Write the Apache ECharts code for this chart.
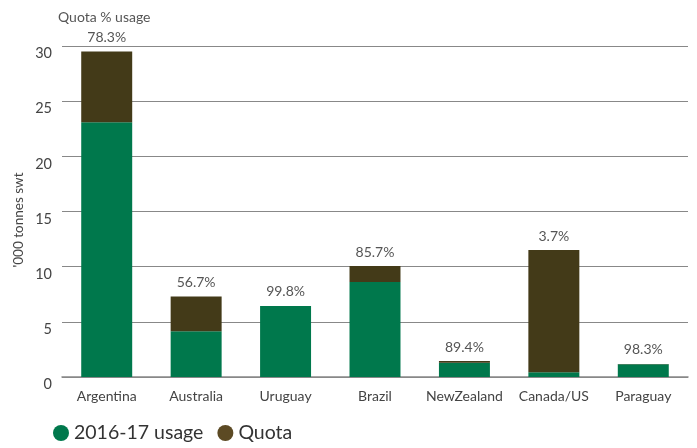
<!DOCTYPE html>
<html>
<head>
<meta charset="utf-8">
<script src="https://cdn.jsdelivr.net/npm/echarts@6/dist/echarts.min.js"></script>
<style>
  html, body { margin: 0; padding: 0; background: #fff; }
  #chart { width: 697px; height: 448px; }
</style>
</head>
<body>
<div id="chart"></div>
<script>
// Beef import quota by supplier ('000 tonnes swt)
const categories = ['Argentina', 'Australia', 'Uruguay', 'Brazil', 'NewZealand', 'Canada/US', 'Paraguay'];
const quotaTotal = [29.5, 7.3, 6.44, 10.05, 1.45, 11.5, 1.18];
const usage = [23.1, 4.14, 6.43, 8.61, 1.30, 0.43, 1.16];
const usagePct = ['78.3%', '56.7%', '99.8%', '85.7%', '89.4%', '3.7%', '98.3%'];
const yTicks = [0, 5, 10, 15, 20, 25, 30];

// the brown segment is the unused part of each quota
const unused = quotaTotal.map((q, i) => +(q - usage[i]).toFixed(3));

const GREEN = '#00784c';
const BROWN = '#433a18';
const FONT = 'Lato';

const chart = echarts.init(document.getElementById('chart'));
chart.setOption({
  animation: false,
  textStyle: { fontFamily: FONT },
  graphic: [
    {
      type: 'text',
      left: 58,
      top: 10,
      style: { text: 'Quota % usage', fontSize: 14, fill: '#555', fontFamily: FONT }
    },
    {
      type: 'text',
      x: 12,
      y: 220,
      rotation: Math.PI / 2,
      style: {
        text: "'000 tonnes swt",
        fontSize: 13.5,
        fill: '#444',
        fontFamily: FONT,
        align: 'center',
        verticalAlign: 'top'
      }
    }
  ],
  grid: { left: 62, right: 9, top: 46, bottom: 71 },
  xAxis: {
    type: 'category',
    data: categories,
    axisTick: { show: false },
    axisLine: { lineStyle: { color: '#888', width: 1.5 } },
    axisLabel: { color: '#444', fontSize: 14, margin: 12, interval: 0 }
  },
  yAxis: {
    type: 'value',
    min: yTicks[0],
    max: yTicks[yTicks.length - 1],
    interval: 5,
    axisLine: { show: false },
    axisTick: { show: false },
    axisLabel: { color: '#444', fontSize: 14.5, margin: 10, verticalAlign: 'top' },
    splitLine: { lineStyle: { color: '#888', width: 1.2 } }
  },
  legend: {
    left: 48,
    bottom: 0,
    icon: 'circle',
    itemWidth: 16,
    itemHeight: 16,
    itemGap: 14,
    textStyle: { color: '#333', fontSize: 19.5, fontFamily: FONT },
    data: [
      { name: '2016-17 usage' },
      { name: 'Quota', itemStyle: { color: '#5c4a24' } }
    ]
  },
  series: [
    {
      name: '2016-17 usage',
      type: 'bar',
      stack: 'q',
      barWidth: '57%',
      itemStyle: { color: GREEN },
      data: usage
    },
    {
      name: 'Quota',
      type: 'bar',
      stack: 'q',
      itemStyle: { color: BROWN },
      label: {
        show: true,
        position: 'top',
        distance: 7,
        color: '#555',
        fontSize: 14,
        fontFamily: FONT,
        formatter: p => usagePct[p.dataIndex]
      },
      data: unused
    }
  ]
});
</script>
</body>
</html>
